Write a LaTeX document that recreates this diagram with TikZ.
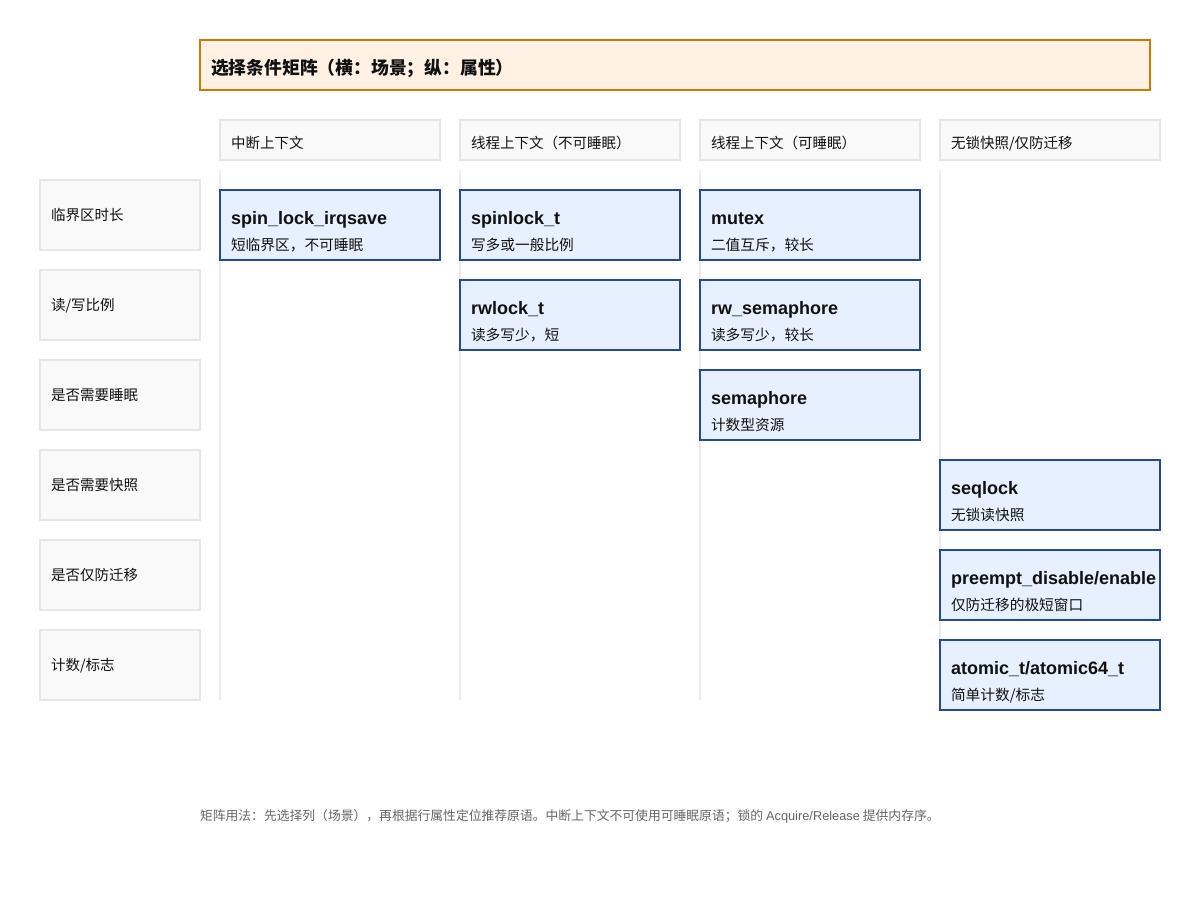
\documentclass[tikz,border=0pt]{standalone}
\usepackage{fontspec}
\setmainfont{Liberation Sans}
\newfontfamily\cjk{Noto Sans CJK SC}
\usetikzlibrary{calc}
\definecolor{titleborder}{RGB}{204,122,0}
\definecolor{titlefill}{RGB}{255,242,228}
\definecolor{hdrfill}{RGB}{249,249,249}
\definecolor{hdrborder}{RGB}{230,230,230}
\definecolor{gridline}{RGB}{236,236,236}
\definecolor{lockfill}{RGB}{230,240,255}
\definecolor{lockborder}{RGB}{36,74,150}
\definecolor{txt}{RGB}{17,17,17}
\definecolor{notetxt}{RGB}{102,102,102}
\newcommand\mklock[5]{%
  \node[lockbox, anchor=north west] (#1) at (#2,#3) {};
  \node[lockname, anchor=base west] (#1-t) at ($(#1.north west)+(11,34)$) {#4};
  \node[locksub, anchor=base west] (#1-s) at ($(#1.north west)+(11,60)$) {#5};
}
\newcommand\mkrow[3]{%
  \node[hdrbox, minimum width=160pt, minimum height=70pt, anchor=north west] (#1) at (40,#2) {};
  \node[hdrtext, anchor=base west] (#1-t) at ($(#1.north west)+(11,40)$) {#3};
}
\newcommand\mkcol[3]{%
  \node[hdrbox, minimum width=220pt, minimum height=40pt, anchor=north west] (#1) at (#2,120) {};
  \node[hdrtext, anchor=base west] (#1-t) at ($(#1.north west)+(11,28)$) {#3};
}
\begin{document}
\begin{tikzpicture}[x=1pt,y=-1pt,
  every node/.style={inner sep=0pt, outer sep=0pt},
  titlebox/.style={draw=titleborder, fill=titlefill, line width=1.8pt},
  titletext/.style={font=\cjk\bfseries\fontsize{17.8pt}{20pt}\selectfont, text=txt},
  hdrbox/.style={draw=hdrborder, fill=hdrfill, line width=1.5pt},
  hdrtext/.style={font=\cjk\fontsize{14.5pt}{17pt}\selectfont, text=txt},
  lockbox/.style={draw=lockborder, fill=lockfill, line width=1.8pt, minimum width=220pt, minimum height=70pt},
  lockname/.style={font=\bfseries\fontsize{18pt}{20pt}\selectfont, text=txt},
  locksub/.style={font=\cjk\fontsize{14.7pt}{17pt}\selectfont, text=txt},
  grid/.style={draw=gridline, line width=1.5pt},
  note/.style={font=\cjk\fontsize{12.8pt}{15pt}\selectfont, text=notetxt}
]
\useasboundingbox (0,0) rectangle (1200,900);
\fill[white] (0,0) rectangle (1200,900);

% title
\node[titlebox, minimum width=950pt, minimum height=50pt, anchor=north west] (title) at (200,40) {};
\node[titletext, anchor=base west] (title-t) at ($(title.north west)+(11,34.5)$) {选择条件矩阵（横：场景；纵：属性）};

% grid lines
\coordinate (g1a) at (220,170); \coordinate (g1b) at (220,700);
\coordinate (g2a) at (460,170); \coordinate (g2b) at (460,700);
\coordinate (g3a) at (700,170); \coordinate (g3b) at (700,700);
\coordinate (g4a) at (940,170); \coordinate (g4b) at (940,700);
\draw[grid] (g1a) -- (g1b);
\draw[grid] (g2a) -- (g2b);
\draw[grid] (g3a) -- (g3b);
\draw[grid] (g4a) -- (g4b);

% column headers
\mkcol{c1}{220}{中断上下文}
\mkcol{c2}{460}{线程上下文（不可睡眠）}
\mkcol{c3}{700}{线程上下文（可睡眠）}
\mkcol{c4}{940}{无锁快照/仅防迁移}

% row headers
\mkrow{r1}{180}{临界区时长}
\mkrow{r2}{270}{读/写比例}
\mkrow{r3}{360}{是否需要睡眠}
\mkrow{r4}{450}{是否需要快照}
\mkrow{r5}{540}{是否仅防迁移}
\mkrow{r6}{630}{计数/标志}

% lock boxes
\mklock{l1}{220}{190}{spin\_lock\_irqsave}{短临界区，不可睡眠}
\mklock{l2}{460}{190}{spinlock\_t}{写多或一般比例}
\mklock{l3}{460}{280}{rwlock\_t}{读多写少，短}
\mklock{l4}{700}{190}{mutex}{二值互斥，较长}
\mklock{l5}{700}{280}{rw\_semaphore}{读多写少，较长}
\mklock{l6}{700}{370}{semaphore}{计数型资源}
\mklock{l7}{940}{460}{seqlock}{无锁读快照}
\mklock{l8}{940}{550}{preempt\_disable/enable}{仅防迁移的极短窗口}
\mklock{l9}{940}{640}{atomic\_t/atomic64\_t}{简单计数/标志}

% note
\node[note, anchor=base west] (note) at (200,820) {矩阵用法：先选择列（场景），再根据行属性定位推荐原语。中断上下文不可使用可睡眠原语；锁的 {\rmfamily\fontsize{12.8pt}{15pt}\selectfont Acquire/Release} 提供内存序。};
\end{tikzpicture}
\end{document}
